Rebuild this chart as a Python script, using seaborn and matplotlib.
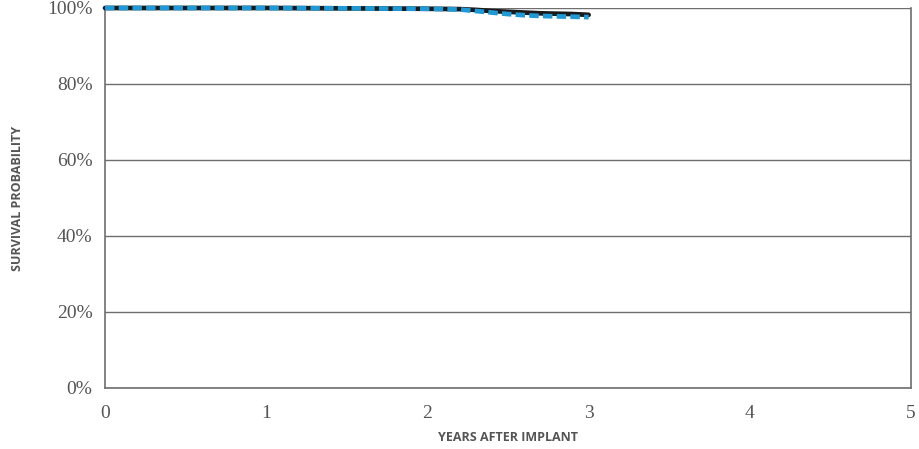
import numpy as np
import pandas as pd
import matplotlib.pyplot as plt
import seaborn as sns

# survival curves (years, percent)
years = [0, 0.5, 1.0, 1.5, 2.0, 2.2, 2.3, 2.4, 2.5, 2.6, 2.7, 2.8, 2.9, 3.0]
black_surv = [100, 100, 100, 99.9, 99.8, 99.7, 99.5, 99.2, 99.0, 98.8, 98.6, 98.5, 98.4, 98.2]
blue_surv = [100, 100, 100, 99.9, 99.8, 99.6, 99.2, 98.8, 98.4, 98.1, 97.9, 97.8, 97.7, 97.6]

x_ticks = [0, 1, 2, 3, 4, 5]
y_ticks = [0, 20, 40, 60, 80, 100]

df = pd.DataFrame({'years': years, 'black': black_surv, 'blue': blue_surv})

sns.set_style('white')
fig = plt.figure(figsize=(9.19, 4.49), dpi=100)
ax = fig.add_axes([0.1143, 0.1359, 0.8770, 0.8463])

sns.lineplot(data=df, x='years', y='black', color='#1a1a1a', lw=3.4, ax=ax,
             solid_capstyle='round', clip_on=False, zorder=3)
sns.lineplot(data=df, x='years', y='blue', color='#1e9ad6', lw=3.4, ax=ax,
             linestyle=(0, (2.0, 0.9)), clip_on=False, zorder=4)

ax.set_xlim(0, 5)
ax.set_ylim(0, 100)
ax.set_xticks(x_ticks)
ax.set_yticks(y_ticks)
ax.set_yticklabels([f'{v}%' for v in y_ticks])
ax.grid(axis='y', color='#6e6e6e', lw=1)
ax.set_axisbelow(True)

for s in ['left', 'bottom', 'right']:
    ax.spines[s].set_color('#6e6e6e')
    ax.spines[s].set_linewidth(1.2)
ax.spines['top'].set_visible(False)

serif = 'Liberation Serif'
ax.tick_params(axis='x', direction='in', length=9, color='#6e6e6e', pad=12,
               labelsize=14, labelcolor='#555555')
ax.tick_params(axis='y', length=0, pad=9, labelsize=14, labelcolor='#555555')
for lab in ax.get_xticklabels() + ax.get_yticklabels():
    lab.set_fontfamily(serif)

ax.set_xlabel('YEARS AFTER IMPLANT', fontsize=9, fontweight='bold', color='#555555',
              fontfamily='Open Sans', va='center')
ax.set_ylabel('SURVIVAL PROBABILITY', fontsize=9, fontweight='bold', color='#555555',
              fontfamily='Open Sans', va='center')
ax.xaxis.set_label_coords(0.5, -0.131)
ax.yaxis.set_label_coords(-0.108, 0.5)

fig.savefig('out.png', dpi=100)
